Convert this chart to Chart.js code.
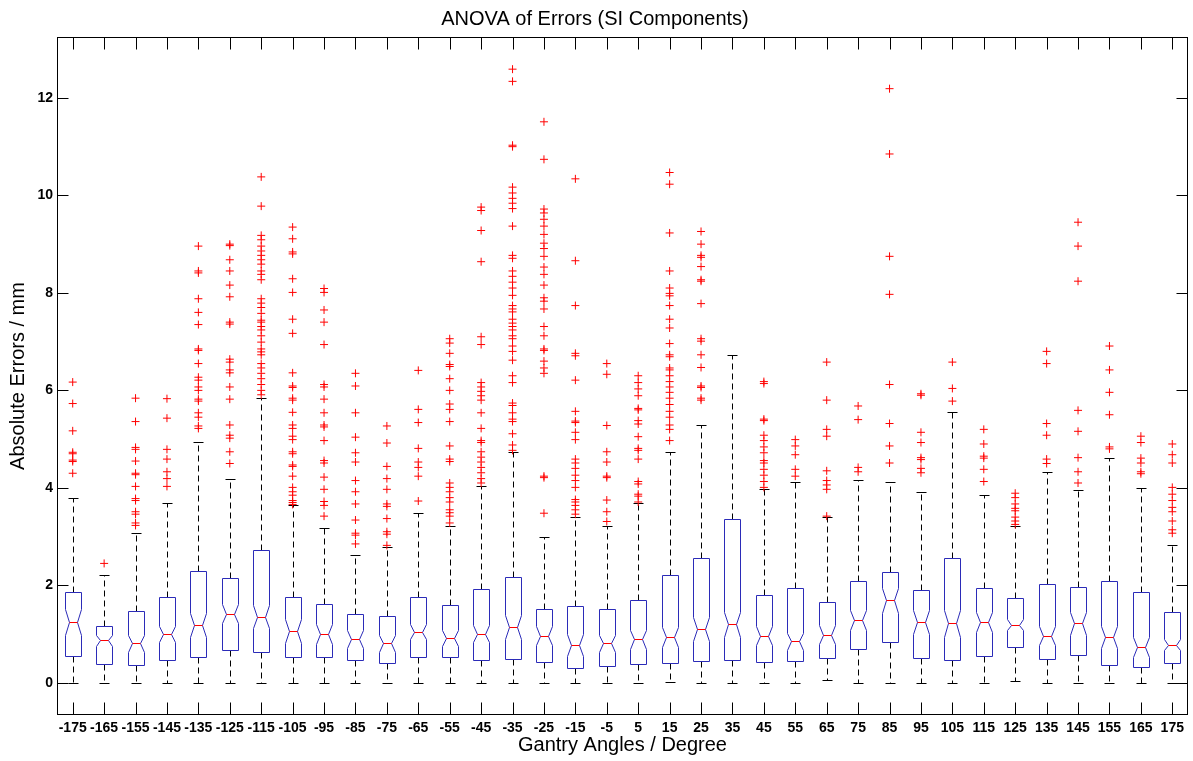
<!DOCTYPE html>
<html>
<head>
<meta charset="utf-8">
<title>ANOVA of Errors (SI Components)</title>
<script src="https://cdn.jsdelivr.net/npm/chart.js@4.4.0/dist/chart.umd.min.js"></script>
<style>
  body { margin: 0; background: #fff; }
  #grafica { display: block; }
</style>
</head>
<body>
<canvas id="grafica" width="1193" height="761"></canvas>
<script>
// Ángulos del gantry (categorías)
const angulos = [-175, -165, -155, -145, -135, -125, -115, -105, -95, -85, -75, -65, -55, -45, -35, -25, -15, -5,
  5, 15, 25, 35, 45, 55, 65, 75, 85, 95, 105, 115, 125, 135, 145, 155, 165, 175];

// Estadísticos de cada caja
const q1 = [0.56, 0.39, 0.37, 0.47, 0.52, 0.67, 0.64, 0.52, 0.54, 0.47, 0.41, 0.54, 0.52, 0.47, 0.48, 0.42, 0.30, 0.35,
  0.39, 0.41, 0.44, 0.47, 0.42, 0.44, 0.50, 0.69, 0.83, 0.50, 0.46, 0.56, 0.73, 0.49, 0.58, 0.37, 0.33, 0.41];
const mediana = [1.25, 0.87, 0.81, 1.00, 1.19, 1.42, 1.36, 1.06, 1.00, 0.90, 0.81, 1.05, 0.92, 1.01, 1.14, 0.97, 0.78, 0.81,
  0.89, 0.94, 1.10, 1.20, 0.97, 0.85, 0.99, 1.29, 1.69, 1.25, 1.22, 1.25, 1.19, 0.97, 1.22, 0.94, 0.74, 0.78];
const q3 = [1.86, 1.17, 1.47, 1.76, 2.29, 2.15, 2.73, 1.77, 1.61, 1.42, 1.37, 1.76, 1.60, 1.93, 2.18, 1.52, 1.57, 1.51,
  1.70, 2.21, 2.57, 3.37, 1.81, 1.95, 1.66, 2.09, 2.27, 1.90, 2.56, 1.95, 1.75, 2.02, 1.96, 2.08, 1.86, 1.45];
const bigoteBajo = [0, 0, 0, 0, 0, 0, 0, 0, 0, 0, 0, 0, 0, 0, 0, 0, 0, 0,
  0, 0.02, 0, 0, 0, 0, 0.06, 0, 0, 0, 0, 0, 0.04, 0, 0, 0, 0, 0];
const bigoteAlto = [3.80, 2.21, 3.08, 3.69, 4.95, 4.19, 5.84, 3.64, 3.17, 2.63, 2.79, 3.48, 3.22, 4.04, 4.74, 2.99, 3.40, 3.21,
  3.69, 4.74, 5.28, 6.73, 3.97, 4.13, 3.40, 4.17, 4.13, 3.92, 5.55, 3.85, 3.21, 4.33, 3.95, 4.61, 3.99, 2.82];
const muesca = [0.26, 0.12, 0.18, 0.17, 0.25, 0.20, 0.23, 0.25, 0.20, 0.18, 0.18, 0.16, 0.16, 0.17, 0.25, 0.20, 0.23, 0.18,
  0.20, 0.20, 0.25, 0.25, 0.20, 0.18, 0.20, 0.20, 0.25, 0.24, 0.27, 0.20, 0.11, 0.20, 0.23, 0.23, 0.20, 0.11];

// Valores atípicos (+) por ángulo
const atipicos = [
  [6.17, 5.73, 5.17, 4.73, 4.70, 4.57, 4.54, 4.30],
  [2.45],
  [5.84, 5.36, 4.83, 4.79, 4.55, 4.30, 4.27, 4.03, 3.78, 3.74, 3.51, 3.46, 3.28, 3.23],
  [5.83, 5.43, 4.79, 4.59, 4.33, 4.19, 4.03],
  [8.96, 8.45, 8.41, 7.88, 7.60, 7.35, 6.85, 6.82, 6.55, 6.27, 6.21, 6.07, 6.00, 5.82, 5.78, 5.54, 5.45, 5.27, 5.22],
  [9.00, 8.97, 8.68, 8.45, 8.16, 7.92, 7.40, 7.36, 6.64, 6.58, 6.42, 6.36, 6.07, 5.82, 5.29, 5.08, 5.02, 4.74, 4.50],
  [10.38, 9.78, 9.18, 9.09, 8.96, 8.86, 8.77, 8.68, 8.59, 8.45, 8.38, 8.27, 7.88, 7.79, 7.70, 7.58, 7.44, 7.40, 7.31, 7.24,
    7.12, 6.99, 6.85, 6.79, 6.73, 6.55, 6.46, 6.35, 6.24, 6.12, 6.00, 5.91],
  [9.35, 9.11, 8.84, 8.80, 8.29, 8.01, 7.46, 7.17, 6.36, 6.09, 6.06, 5.84, 5.80, 5.55, 5.29, 5.22, 5.06, 4.99, 4.74, 4.70,
    4.47, 4.44, 4.24, 4.01, 3.92, 3.85, 3.74, 3.70, 3.66],
  [8.09, 8.01, 7.65, 7.40, 6.94, 6.12, 6.07, 5.82, 5.54, 5.29, 5.25, 4.97, 4.56, 4.51, 4.22, 3.97, 3.72, 3.64, 3.42],
  [6.35, 6.09, 5.54, 5.04, 4.72, 4.53, 4.15, 3.92, 3.67, 3.34, 3.07, 3.03, 2.85],
  [5.27, 4.92, 4.44, 4.19, 3.97, 3.67, 3.62, 3.37, 3.10, 3.05, 2.82],
  [6.41, 5.61, 5.34, 4.81, 4.53, 4.42, 4.24, 3.73],
  [7.06, 6.97, 6.76, 6.53, 6.49, 6.24, 6.00, 5.72, 5.61, 5.36, 4.86, 4.59, 4.54, 4.10, 4.01, 3.92, 3.80, 3.71, 3.55, 3.49,
    3.42, 3.28],
  [9.76, 9.69, 9.28, 8.64, 7.10, 6.94, 6.16, 6.07, 5.98, 5.89, 5.80, 5.54, 5.22, 4.97, 4.93, 4.74, 4.63, 4.53, 4.42, 4.31,
    4.19, 4.10],
  [12.59, 12.34, 11.03, 11.00, 10.17, 10.05, 9.94, 9.84, 9.73, 9.37, 8.77, 8.71, 8.45, 8.34, 8.22, 8.10, 7.95, 7.74, 7.67,
    7.61, 7.46, 7.38, 7.31, 7.24, 7.12, 7.06, 6.91, 6.80, 6.62, 6.30, 6.16, 5.74, 5.69, 5.54, 5.41, 5.36, 5.11, 4.88, 4.77],
  [11.51, 10.74, 9.72, 9.64, 9.51, 9.37, 9.20, 9.02, 8.91, 8.75, 8.53, 8.38, 8.16, 7.90, 7.83, 7.67, 7.31, 7.12, 6.85, 6.82,
    6.60, 6.46, 6.35, 4.24, 4.21, 3.48],
  [10.34, 8.66, 7.74, 6.76, 6.71, 6.21, 5.57, 5.37, 5.34, 5.14, 4.99, 4.59, 4.51, 4.40, 4.26, 4.15, 4.01, 3.76, 3.71, 3.64,
    3.55, 3.46],
  [6.55, 6.33, 5.28, 4.74, 4.53, 4.24, 4.21, 3.75, 3.51, 3.31],
  [6.30, 6.16, 6.03, 5.89, 5.63, 5.60, 5.38, 5.31, 5.05, 4.81, 4.77, 4.59, 4.13, 4.08, 3.87, 3.83, 3.71],
  [10.47, 10.23, 9.23, 8.45, 8.10, 7.99, 7.94, 7.74, 7.46, 7.28, 6.96, 6.73, 6.69, 6.46, 6.42, 6.30, 6.18, 6.07, 5.96, 5.84,
    5.71, 5.57, 5.45, 5.29, 5.20, 4.97],
  [9.26, 9.00, 8.77, 8.73, 8.54, 8.27, 8.24, 7.78, 7.06, 7.01, 6.73, 6.47, 6.09, 6.06, 5.84, 5.80],
  [],
  [6.18, 6.14, 5.41, 5.38, 5.08, 4.97, 4.84, 4.72, 4.56, 4.51, 4.38, 4.26, 4.13, 4.01],
  [4.99, 4.86, 4.68, 4.38, 4.24],
  [6.58, 5.80, 5.20, 5.06, 4.35, 4.15, 4.06, 3.97, 3.42],
  [5.68, 5.40, 4.42, 4.33],
  [12.19, 10.85, 8.75, 7.97, 6.12, 5.32, 4.86, 4.51],
  [5.93, 5.90, 5.14, 4.93, 4.62, 4.58, 4.40, 4.31],
  [6.58, 6.04, 5.78],
  [5.20, 4.90, 4.65, 4.61, 4.38, 4.13],
  [3.89, 3.80, 3.67, 3.58, 3.53, 3.40, 3.32, 3.25],
  [6.80, 6.55, 5.32, 5.08, 4.59, 4.50],
  [9.45, 8.96, 8.24, 5.59, 5.16, 4.62, 4.33, 4.10],
  [6.91, 6.42, 5.96, 5.50, 4.84, 4.80],
  [5.06, 4.93, 4.61, 4.51, 4.33, 4.29],
  [4.90, 4.68, 4.51, 4.01, 3.87, 3.74, 3.60, 3.51, 3.32, 3.14, 3.07]
];

const marcasY = [0, 2, 4, 6, 8, 10, 12];

const fuente = '"Liberation Sans", Arial, Helvetica, sans-serif';
const azul = '#2b2bb8';
const rojo = '#ff0000';

// Puntos para el dataset de dispersión
const puntos = [];
atipicos.forEach((lista, i) => {
  lista.forEach(v => puntos.push({ x: i + 1, y: v }));
});

// Dibuja las cajas con muesca usando las escalas del gráfico
const cajas = {
  id: 'cajas',
  beforeDatasetsDraw(chart) {
    const { ctx, scales: { x, y } } = chart;
    const mitad = x.getPixelForValue(1.26) - x.getPixelForValue(1);
    const py = v => Math.round(y.getPixelForValue(v)) + 0.5;
    ctx.save();
    ctx.lineWidth = 1;
    angulos.forEach((a, i) => {
      const cx = Math.round(x.getPixelForValue(i + 1)) + 0.5;
      const izq = cx - Math.round(mitad);
      const der = cx + Math.round(mitad);
      const tapa = Math.round(mitad * 0.6);

      // bigotes discontinuos
      ctx.strokeStyle = '#000';
      ctx.setLineDash([6, 4]);
      ctx.beginPath();
      ctx.moveTo(cx, py(q3[i]));
      ctx.lineTo(cx, py(bigoteAlto[i]));
      ctx.moveTo(cx, py(q1[i]));
      ctx.lineTo(cx, py(bigoteBajo[i]));
      ctx.stroke();

      // tapas de los bigotes
      ctx.setLineDash([]);
      ctx.beginPath();
      ctx.moveTo(cx - tapa, py(bigoteAlto[i]));
      ctx.lineTo(cx + tapa, py(bigoteAlto[i]));
      ctx.moveTo(cx - tapa, py(bigoteBajo[i]));
      ctx.lineTo(cx + tapa, py(bigoteBajo[i]));
      ctx.stroke();

      // caja con muesca
      const yMed = py(mediana[i]);
      const yArr = py(mediana[i] + muesca[i]);
      const yAba = py(mediana[i] - muesca[i]);
      const dentro = Math.round(mitad / 2);
      ctx.strokeStyle = azul;
      ctx.beginPath();
      ctx.moveTo(izq, py(q1[i]));
      ctx.lineTo(izq, yAba);
      ctx.lineTo(izq + dentro, yMed);
      ctx.lineTo(izq, yArr);
      ctx.lineTo(izq, py(q3[i]));
      ctx.lineTo(der, py(q3[i]));
      ctx.lineTo(der, yArr);
      ctx.lineTo(der - dentro, yMed);
      ctx.lineTo(der, yAba);
      ctx.lineTo(der, py(q1[i]));
      ctx.closePath();
      ctx.stroke();

      // mediana
      ctx.strokeStyle = rojo;
      ctx.beginPath();
      ctx.moveTo(izq + dentro, yMed);
      ctx.lineTo(der - dentro, yMed);
      ctx.stroke();
    });
    ctx.restore();
  }
};

// Marco y marcas hacia dentro, estilo MATLAB
const marco = {
  id: 'marco',
  afterDraw(chart) {
    const { ctx, chartArea: a, scales: { x, y } } = chart;
    const l = Math.round(a.left) + 0.5;
    const r = Math.round(a.right) - 0.5;
    const t = Math.round(a.top) + 0.5;
    const b = Math.round(a.bottom) - 0.5;
    ctx.save();
    ctx.strokeStyle = '#000';
    ctx.lineWidth = 1;
    ctx.strokeRect(l, t, r - l, b - t);
    ctx.beginPath();
    y.ticks.forEach(tk => {
      const p = Math.round(y.getPixelForValue(tk.value)) + 0.5;
      ctx.moveTo(l, p); ctx.lineTo(l + 11, p);
      ctx.moveTo(r, p); ctx.lineTo(r - 11, p);
    });
    x.ticks.forEach(tk => {
      const p = Math.round(x.getPixelForValue(tk.value)) + 0.5;
      ctx.moveTo(p, b); ctx.lineTo(p, b - 12);
      ctx.moveTo(p, t); ctx.lineTo(p, t + 12);
    });
    ctx.stroke();
    ctx.restore();
  }
};

new Chart(document.getElementById('grafica'), {
  type: 'scatter',
  data: {
    datasets: [{
      data: puntos,
      pointStyle: 'cross',
      radius: 4,
      borderColor: rojo,
      backgroundColor: rojo,
      borderWidth: 1,
      showLine: false
    }]
  },
  options: {
    responsive: false,
    animation: false,
    layout: { padding: { left: 0, right: 3, top: 0, bottom: 0 } },
    plugins: {
      legend: { display: false },
      tooltip: { enabled: false },
      title: {
        display: true,
        text: 'ANOVA of Errors (SI Components)',
        color: '#000',
        font: { family: fuente, size: 20, weight: 'normal' },
        padding: { top: 7, bottom: 6 }
      }
    },
    scales: {
      x: {
        type: 'linear',
        min: 0.5,
        max: 36.5,
        grid: { display: false, drawTicks: false },
        border: { display: false },
        afterBuildTicks: s => { s.ticks = angulos.map((a, i) => ({ value: i + 1 })); },
        afterFit: s => { s.height = 46; },
        ticks: {
          autoSkip: false,
          maxRotation: 0,
          padding: 5,
          color: '#000',
          font: { family: fuente, size: 14, weight: 'bold' },
          callback: v => angulos[Math.round(v) - 1]
        },
        title: {
          display: true,
          text: 'Gantry Angles / Degree',
          color: '#000',
          font: { family: fuente, size: 20, weight: 'normal' },
          padding: { top: 0, bottom: 4 }
        }
      },
      y: {
        min: -0.66,
        max: 13.25,
        grid: { display: false, drawTicks: false },
        border: { display: false },
        afterBuildTicks: s => { s.ticks = marcasY.map(v => ({ value: v })); },
        afterFit: s => { s.width = 57; },
        ticks: {
          padding: 4,
          color: '#000',
          font: { family: fuente, size: 14, weight: 'bold' }
        },
        title: {
          display: true,
          text: 'Absolute Errors / mm',
          color: '#000',
          font: { family: fuente, size: 20, weight: 'normal' },
          padding: { top: 6, bottom: 0 }
        }
      }
    }
  },
  plugins: [cajas, marco]
});
</script>
</body>
</html>
